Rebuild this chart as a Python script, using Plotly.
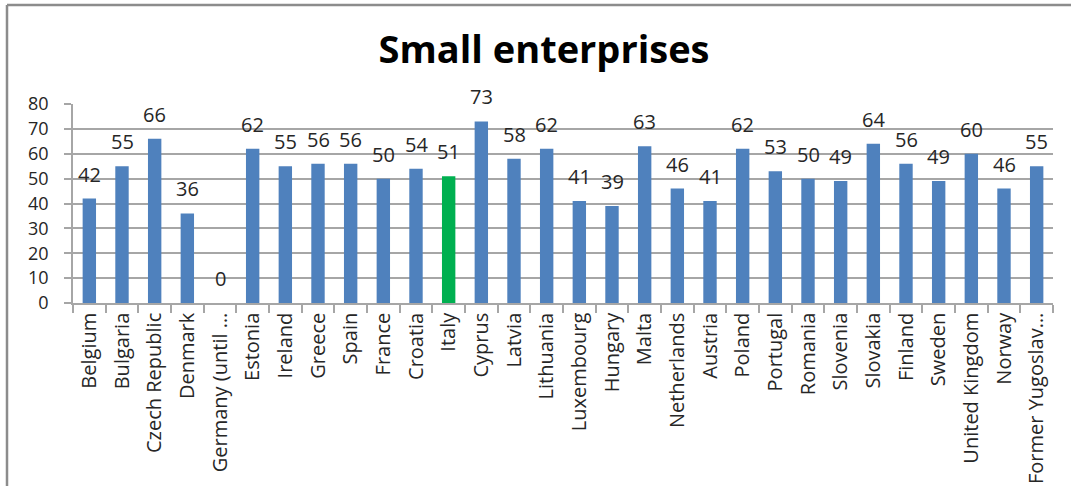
import plotly.graph_objects as go

# Share of small enterprises by country
countries = [
    "Belgium", "Bulgaria", "Czech Republic", "Denmark", "Germany (until …",
    "Estonia", "Ireland", "Greece", "Spain", "France", "Croatia", "Italy",
    "Cyprus", "Latvia", "Lithuania", "Luxembourg", "Hungary", "Malta",
    "Netherlands", "Austria", "Poland", "Portugal", "Romania", "Slovenia",
    "Slovakia", "Finland", "Sweden", "United Kingdom", "Norway",
    "Former Yugoslav…",
]
values = [
    42, 55, 66, 36, 0, 62, 55, 56, 56, 50, 54, 51, 73, 58, 62, 41, 39, 63,
    46, 41, 62, 53, 50, 49, 64, 56, 49, 60, 46, 55,
]
highlight = "Italy"
y_ticks = [0, 10, 20, 30, 40, 50, 60, 70, 80]

BLUE = "#4F81BD"
GREEN = "#00B050"
GRID = "#A6A6A6"
TEXT = "#262626"
FONT = "Open Sans, Calibri, sans-serif"

W, H = 1071, 486
ML, MR, MT, MB = 73, 18, 104, 183

bar_colors = [GREEN if c == highlight else BLUE for c in countries]

fig = go.Figure(
    go.Bar(
        x=countries,
        y=values,
        marker=dict(color=bar_colors, line=dict(width=0)),
        hoverinfo="x+y",
    )
)

# value labels above each bar
for c, v in zip(countries, values):
    fig.add_annotation(
        x=c, y=v, text=str(v), showarrow=False,
        yanchor="bottom", yshift=9,
        font=dict(family=FONT, size=20, color=TEXT),
    )

# chart-area frame (left and top edges)
pw = W - ML - MR
ph = H - MT - MB
def px_x(p):
    return (p - ML) / pw
def px_y(p):
    return 1 - (p - MT) / ph

frame = dict(color="#8C8C8C", width=2.5)
fig.add_shape(type="line", xref="paper", yref="paper",
              x0=px_x(7), x1=px_x(W + 5), y0=px_y(5), y1=px_y(5), line=frame)
fig.add_shape(type="line", xref="paper", yref="paper",
              x0=px_x(7), x1=px_x(7), y0=px_y(5), y1=px_y(H + 5), line=frame)

fig.update_layout(
    width=W, height=H,
    margin=dict(l=ML, r=MR, t=MT, b=MB, pad=0, autoexpand=False),
    paper_bgcolor="white", plot_bgcolor="white",
    bargap=0.59,
    showlegend=False,
    title=dict(
        text="<b>Small enterprises</b>",
        x=px_x(544), xanchor="center", xref="paper",
        y=1 - 50 / H, yanchor="middle",
        font=dict(family=FONT, size=38, color="black"),
    ),
    font=dict(family=FONT, size=20, color=TEXT),
)

fig.update_xaxes(
    type="category",
    automargin=False,
    tickangle=-90,
    tickson="boundaries",
    ticks="outside", ticklen=8, tickcolor=GRID, tickwidth=1.5,
    showline=True, linecolor=GRID, linewidth=1.5,
    showgrid=False,
    tickfont=dict(family=FONT, size=20, color=TEXT),
)
fig.update_yaxes(
    range=[0, 80],
    automargin=False,
    tickvals=y_ticks,
    ticks="outside", ticklen=7, tickcolor=GRID, tickwidth=1.5,
    ticklabelstandoff=12,
    showline=True, linecolor=GRID, linewidth=1.5,
    showgrid=True, gridcolor=GRID, gridwidth=1.5,
    zeroline=False,
    tickfont=dict(family=FONT, size=18, color=TEXT),
)

fig.write_html("out.html")
